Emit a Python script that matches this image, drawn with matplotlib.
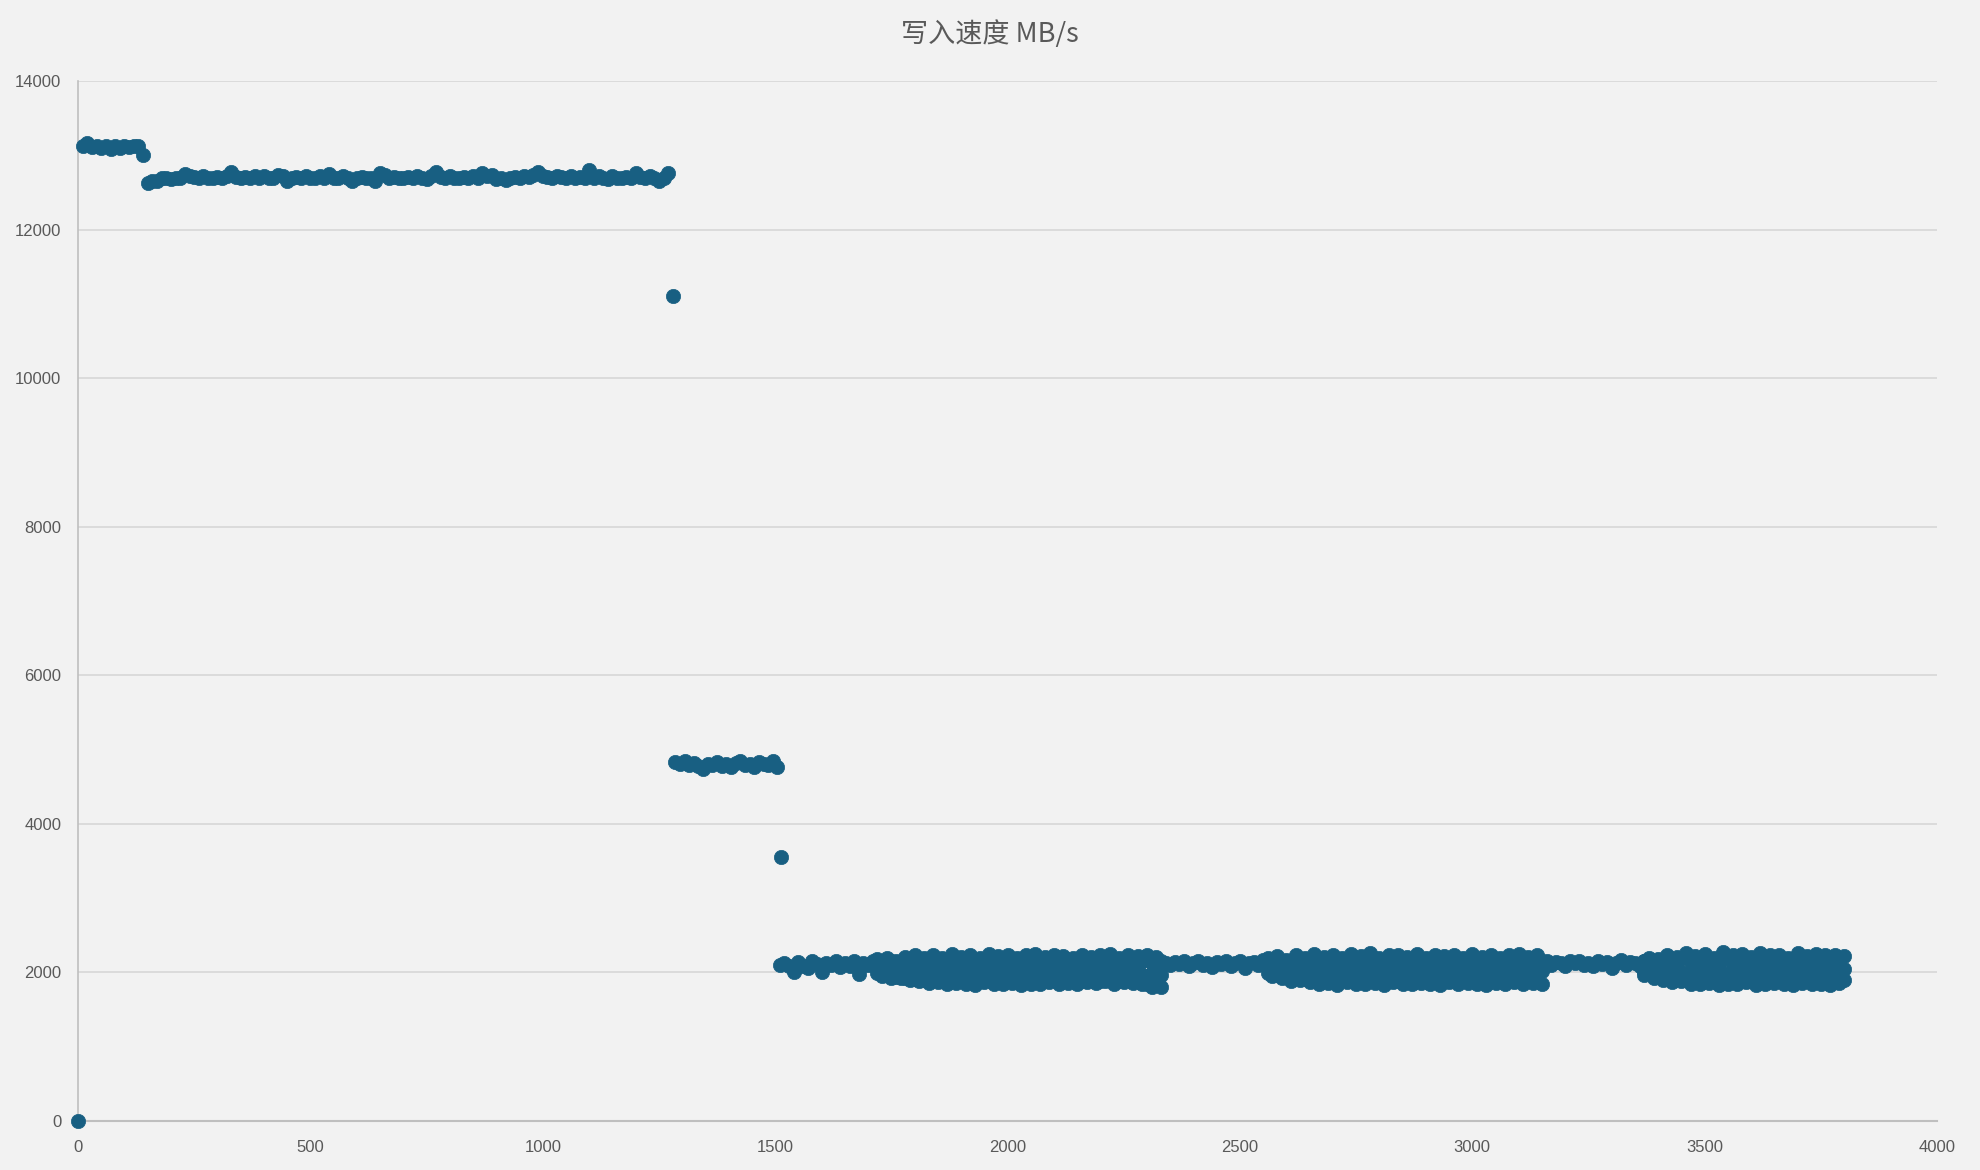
import numpy as np
import matplotlib
matplotlib.use("Agg")
import matplotlib.pyplot as plt

plt.rcParams['font.family'] = ['Liberation Sans', 'Noto Sans CJK SC', 'DejaVu Sans']

# ---------------- data (x = time index, y = MB/s) ----------------
x0 = [0]
y0 = [0]

xa = np.arange(10, 141, 10)
ya = [13130, 13170, 13110, 13120, 13100, 13130, 13090, 13120, 13100, 13130,
      13110, 13120, 13130, 13000]

xb = np.arange(150, 1271, 10)
yb = [12630, 12650, 12660, 12700, 12690, 12680, 12700, 12690, 12750, 12720,
      12710, 12700, 12720, 12700, 12690, 12710, 12690, 12720, 12780, 12710,
      12700, 12710, 12700, 12720, 12700, 12720, 12690, 12700, 12740, 12720,
      12660, 12700, 12710, 12700, 12720, 12690, 12700, 12720, 12700, 12750,
      12700, 12690, 12720, 12700, 12660, 12700, 12710, 12690, 12700, 12660,
      12760, 12730, 12700, 12710, 12690, 12700, 12710, 12700, 12720, 12700,
      12680, 12720, 12770, 12710, 12700, 12720, 12700, 12690, 12710, 12700,
      12720, 12700, 12760, 12720, 12730, 12680, 12700, 12670, 12700, 12710,
      12700, 12720, 12710, 12730, 12780, 12720, 12710, 12700, 12720, 12710,
      12700, 12720, 12690, 12710, 12700, 12800, 12690, 12720, 12700, 12680,
      12720, 12700, 12690, 12710, 12700, 12760, 12710, 12700, 12720, 12690,
      12660, 12700, 12760]

x_out1 = [1280]
y_out1 = [11100]

xc = np.arange(1285, 1506, 10)
yc = [4830, 4800, 4850, 4790, 4820, 4780, 4740, 4810, 4790, 4830, 4780, 4800,
      4760, 4820, 4840, 4790, 4810, 4770, 4830, 4800, 4790, 4850, 4760]

x_out2 = [1512]
y_out2 = [3550]

# single-line stretches of the slow phase
xd1 = np.arange(1510, 1721, 10)
yd1 = [2100, 2130, 2080, 2000, 2140, 2090, 2060, 2150, 2110, 2000, 2120,
       2100, 2150, 2070, 2130, 2090, 2160, 1980, 2120, 2100, 2150, 2080]

xd3 = np.arange(2330, 2561, 10)
yd3 = [2150, 2130, 2100, 2140, 2110, 2160, 2090, 2120, 2150, 2100, 2130, 2070,
       2140, 2110, 2160, 2090, 2130, 2150, 2060, 2120, 2140, 2100, 2170, 2110]

xd5 = np.arange(3150, 3381, 10)
yd5 = [2120, 2150, 2100, 2140, 2130, 2090, 2150, 2120, 2160, 2100, 2130, 2080,
       2150, 2110, 2140, 2060, 2130, 2170, 2100, 2140, 2120, 2090, 2160, 2130]

# wide (scattered) stretches: several layers each
xd2 = np.arange(1720, 2321, 20)
yd2_hi = [2180, 2200, 2160, 2210, 2230, 2190, 2240, 2200, 2250, 2210, 2230,
          2190, 2250, 2220, 2240, 2200, 2230, 2250, 2210, 2240, 2220, 2200,
          2240, 2210, 2230, 2250, 2200, 2240, 2220, 2230, 2210]
yd2_hi2 = [2130, 2150, 2120, 2170, 2140, 2160, 2130, 2180, 2150, 2120, 2170,
           2140, 2160, 2130, 2150, 2180, 2120, 2160, 2140, 2170, 2130, 2150,
           2160, 2120, 2170, 2140, 2150, 2130, 2160, 2120, 2100]
yd2_mid = [2050, 2020, 2080, 1990, 2040, 2060, 1980, 2050, 2010, 2090, 2000,
           2060, 2030, 1980, 2070, 2010, 2050, 2000, 2080, 2020, 2060, 1990,
           2040, 2070, 2000, 2050, 2030, 1980, 2060, 1950, 2000]
yd2_mid2 = [2000, 2050, 1970, 2040, 2000, 1960, 2030, 1990, 2060, 1970, 2040,
            2000, 1960, 2050, 2010, 1970, 2030, 1990, 2050, 1960, 2020, 2040,
            1980, 2010, 2060, 1970, 2030, 2000, 1960, 1990, 1960]
yd2_lo = [1950, 1930, 1920, 1900, 1880, 1860, 1870, 1840, 1860, 1850, 1830,
          1870, 1840, 1850, 1860, 1830, 1850, 1840, 1870, 1850, 1860, 1840,
          1870, 1860, 1880, 1850, 1870, 1860, 1840, 1800, 1810]
yd2_lo2 = [1990, 1960, 1940, 1930, 1910, 1900, 1920, 1890, 1910, 1880, 1900,
           1890, 1920, 1880, 1900, 1910, 1890, 1880, 1900, 1920, 1890, 1910,
           1880, 1900, 1890, 1920, 1880, 1900, 1910, 1850, 1830]

xd4 = np.arange(2560, 3141, 20)
yd4_hi = [2190, 2220, 2170, 2230, 2200, 2250, 2210, 2240, 2190, 2250, 2220,
          2260, 2200, 2240, 2230, 2210, 2250, 2200, 2240, 2220, 2230, 2190,
          2250, 2210, 2240, 2200, 2230, 2250, 2210, 2240]
yd4_hi2 = [2140, 2120, 2160, 2130, 2170, 2150, 2120, 2160, 2140, 2180, 2130,
           2150, 2170, 2120, 2160, 2140, 2130, 2170, 2150, 2120, 2160, 2140,
           2180, 2130, 2150, 2170, 2120, 2160, 2140, 2150]
yd4_mid = [2060, 2000, 2080, 2030, 1990, 2070, 2020, 2050, 1980, 2090, 2010,
           2060, 2040, 1990, 2080, 2020, 2050, 2000, 2070, 2030, 1990, 2060,
           2020, 2080, 2000, 2050, 2030, 1980, 2060, 2010]
yd4_mid2 = [2020, 2050, 1970, 2040, 2000, 1960, 2030, 1990, 2060, 1970, 2040,
            2000, 1960, 2050, 2010, 1970, 2030, 1990, 2050, 1960, 2020, 2040,
            1980, 2010, 2060, 1970, 2030, 2000, 1960, 2020]
yd4_lo = [1950, 1920, 1890, 1900, 1870, 1850, 1860, 1830, 1870, 1850, 1840,
          1860, 1830, 1870, 1850, 1840, 1860, 1850, 1830, 1870, 1840, 1860,
          1850, 1830, 1860, 1840, 1870, 1850, 1860, 1850]
yd4_lo2 = [1990, 1960, 1940, 1920, 1910, 1890, 1900, 1880, 1910, 1890, 1920,
           1880, 1900, 1910, 1890, 1880, 1920, 1900, 1890, 1910, 1880, 1900,
           1920, 1890, 1880, 1910, 1900, 1890, 1920, 1900]

xd6 = np.arange(3380, 3801, 20)
yd6_hi = [2200, 2180, 2240, 2210, 2260, 2220, 2250, 2200, 2270, 2230, 2250,
          2210, 2260, 2230, 2240, 2200, 2260, 2220, 2250, 2230, 2240, 2220]
yd6_hi2 = [2150, 2130, 2170, 2140, 2180, 2150, 2130, 2170, 2140, 2190, 2130,
           2160, 2170, 2120, 2160, 2140, 2180, 2150, 2130, 2170, 2150, 2160]
yd6_mid = [2060, 2010, 2080, 2030, 1990, 2070, 2020, 2050, 1980, 2090, 2010,
           2060, 2040, 1990, 2080, 2020, 2050, 2000, 2070, 2030, 2060, 2040]
yd6_mid2 = [2010, 2050, 1970, 2040, 2000, 1960, 2030, 1990, 2060, 1970, 2040,
            2000, 1960, 2050, 2010, 1970, 2030, 1990, 2050, 1960, 2020, 2040]
yd6_lo = [1960, 1930, 1900, 1870, 1880, 1850, 1840, 1860, 1830, 1850, 1840,
          1870, 1830, 1850, 1860, 1840, 1830, 1860, 1850, 1840, 1830, 1860]
yd6_lo2 = [2000, 1970, 1940, 1920, 1900, 1890, 1910, 1880, 1900, 1890, 1920,
           1880, 1900, 1910, 1890, 1880, 1920, 1900, 1890, 1910, 1880, 1900]

title = "写入速度 MB/s"
xticks = [0, 500, 1000, 1500, 2000, 2500, 3000, 3500, 4000]
yticks = [0, 2000, 4000, 6000, 8000, 10000, 12000, 14000]

# ---------------- figure ----------------
BG = '#F2F2F2'
C = '#185F82'
fig = plt.figure(figsize=(19.8, 11.7), dpi=100, facecolor=BG)
ax = fig.add_axes([0.0394, 0.0419, 0.9389, 0.8889], facecolor=BG)

xs_all = [x0, xa, xb, x_out1, xc, x_out2, xd1, xd3, xd5,
          xd2, xd2 + 10, xd2, xd2 + 10, xd2 + 10, xd2,
          xd4, xd4 + 10, xd4, xd4 + 10, xd4 + 10, xd4,
          xd6, xd6 - 10, xd6, xd6 - 10, xd6 - 10, xd6]
ys_all = [y0, ya, yb, y_out1, yc, y_out2, yd1, yd3, yd5,
          yd2_hi, yd2_hi2, yd2_mid, yd2_mid2, yd2_lo, yd2_lo2,
          yd4_hi, yd4_hi2, yd4_mid, yd4_mid2, yd4_lo, yd4_lo2,
          yd6_hi, yd6_hi2, yd6_mid, yd6_mid2, yd6_lo, yd6_lo2]
for xs, ys in zip(xs_all, ys_all):
    ax.plot(xs, ys, linestyle='none', marker='o', markersize=10.3,
            markerfacecolor=C, markeredgecolor=C, markeredgewidth=0.5,
            clip_on=False, zorder=3)

ax.set_xlim(0, 4000)
ax.set_ylim(0, 14000)
ax.set_xticks(xticks)
ax.set_yticks(yticks)
ax.grid(axis='y', color='#D9D9D9', linewidth=1.3, zorder=0)
ax.set_axisbelow(True)
for s in ['top', 'right']:
    ax.spines[s].set_visible(False)
ax.spines['left'].set_color('#BFBFBF')
ax.spines['left'].set_linewidth(1.2)
ax.spines['bottom'].set_color('#BFBFBF')
ax.spines['bottom'].set_linewidth(1.5)
ax.tick_params(axis='both', length=0, labelsize=12, labelcolor='#595959')
ax.tick_params(axis='y', pad=12)
ax.tick_params(axis='x', pad=14)

fig.text(0.5, 0.971, title, ha='center', va='center', fontsize=19.5,
         color='#595959', family=['Noto Sans CJK SC', 'DejaVu Sans'])

fig.savefig('out.png', dpi=100, facecolor=BG)
